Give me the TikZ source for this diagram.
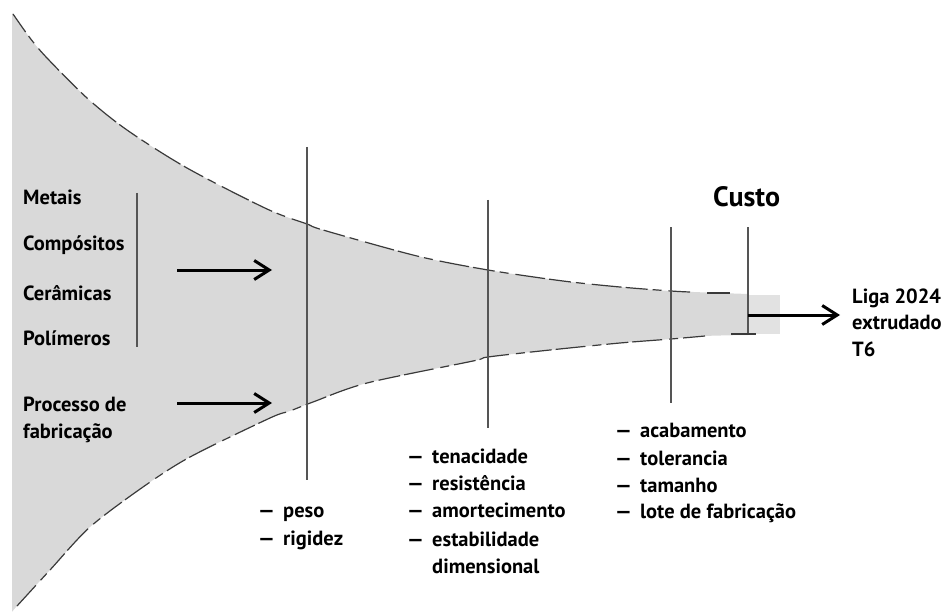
\documentclass[tikz,border=0pt]{standalone}
\usepackage{fontspec}
\setmainfont{PT Sans}
\usetikzlibrary{arrows.meta}
\definecolor{funnelgray}{HTML}{D9D9D9}
\definecolor{rectgray}{HTML}{E2E2E2}
\definecolor{edgegray}{HTML}{3A3A3A}
\definecolor{linegray}{HTML}{555555}
\newcommand{\itm}[1]{\makebox[25pt][l]{—}#1}
\begin{document}
\begin{tikzpicture}[x=1pt,y=-1pt,
  lab/.style={font=\bfseries\fontsize{20.5}{24}\selectfont, inner sep=0pt, anchor=base west},
  bigarrow/.style={line width=3pt, -{Straight Barb[length=15pt,width=19pt,line width=3pt]}},
  stage/.style={draw=linegray, line width=1.4pt},
  edge/.style={draw=edgegray, line width=1.2pt, dash pattern=on 22pt off 5pt on 9pt off 7pt on 30pt off 4pt}]
\useasboundingbox (0,0) rectangle (949,612);
% funnel
\fill[funnelgray] (12,13) -- plot[smooth,tension=0.5] coordinates {(12,13) (30,38) (47,58) (87,98) (127,130) (187,168) (267,209) (307,224) (323,230) (417,256) (488,270) (563,281) (620,287) (671,291) (748,294)}
  -- (748,335) -- plot[smooth,tension=0.5] coordinates {(748,335) (705,336) (671,339) (620,343) (550,350) (488,357) (473,361) (367,383) (313,402) (290,411) (270,418) (190,457) (143,487) (90,527) (50,570) (17,606) (12,612)} -- cycle;
\fill[rectgray] (748,295) rectangle (780,334);
% edges
\draw[edge] plot[smooth,tension=0.5] coordinates {(13,14) (30,38) (47,58) (87,98) (127,130) (187,168) (267,209) (307,224) (323,230) (417,256) (488,270) (563,281) (620,287) (671,291) (690,292)};
\draw[edgegray, line width=1.2pt] (707,293) -- (730,293);
\draw[edge] plot[smooth,tension=0.5] coordinates {(705,336) (671,339) (620,343) (550,350) (488,357) (473,361) (367,383) (313,402) (290,411) (270,418) (190,457) (143,487) (90,527) (50,570) (17,606)};
% stage lines
\coordinate (s1t) at (307,147); \coordinate (s1b) at (307,480);
\coordinate (s2t) at (488,200); \coordinate (s2b) at (488,428);
\coordinate (s3t) at (671,227); \coordinate (s3b) at (671,403);
\coordinate (s4t) at (748,227); \coordinate (s4b) at (748,334);
\coordinate (tickl) at (731,334); \coordinate (tickr) at (756,334);
\draw[stage] (s1t) -- (s1b);
\draw[stage] (s2t) -- (s2b);
\draw[stage] (s3t) -- (s3b);
\draw[stage] (s4t) -- (s4b);
\draw[edgegray, line width=1.4pt] (tickl) -- (tickr);
% left bar
\coordinate (bart) at (137,193); \coordinate (barb) at (137,347);
\draw[stage] (bart) -- (barb);
% left labels
\node[lab] (metais) at (23,205) {Metais};
\node[lab] (comp) at (23,250) {Compósitos};
\node[lab] (cer) at (23,300) {Cerâmicas};
\node[lab] (pol) at (23,345) {Polímeros};
\node[lab] (proc) at (23,411) {Processo de};
\node[lab] (fab) at (23,438) {fabricação};
% arrows
\coordinate (a1s) at (177,270); \coordinate (a1e) at (272,270);
\coordinate (a2s) at (177,403); \coordinate (a2e) at (272,403);
\coordinate (a3s) at (748,315); \coordinate (a3e) at (840,315);
\draw[bigarrow] (a1s) -- (a1e);
\draw[bigarrow] (a2s) -- (a2e);
\draw[bigarrow] (a3s) -- (a3e);
% custo
\node[font=\bfseries\fontsize{28}{32}\selectfont, inner sep=0pt, anchor=base west] (custo) at (713,207) {Custo};
% result
\node[lab] (liga) at (852,303) {Liga 2024};
\node[lab] (extr) at (852,329) {extrudado};
\node[lab] (t6) at (852,356) {T6};
% lists
\node[lab] (peso) at (258,517) {\itm{peso}};
\node[lab] (rig) at (258,545) {\itm{rigidez}};
\node[lab] (ten) at (407,463) {\itm{tenacidade}};
\node[lab] (res) at (407,490) {\itm{resistência}};
\node[lab] (amo) at (407,517) {\itm{amortecimento}};
\node[lab] (est) at (407,546) {\itm{estabilidade}};
\node[lab] (dim) at (432,573) {dimensional};
\node[lab] (aca) at (615,437) {\itm{acabamento}};
\node[lab] (tol) at (615,465) {\itm{tolerancia}};
\node[lab] (tam) at (615,492) {\itm{tamanho}};
\node[lab] (lote) at (615,518) {\itm{lote de fabricação}};
\end{tikzpicture}
\end{document}
